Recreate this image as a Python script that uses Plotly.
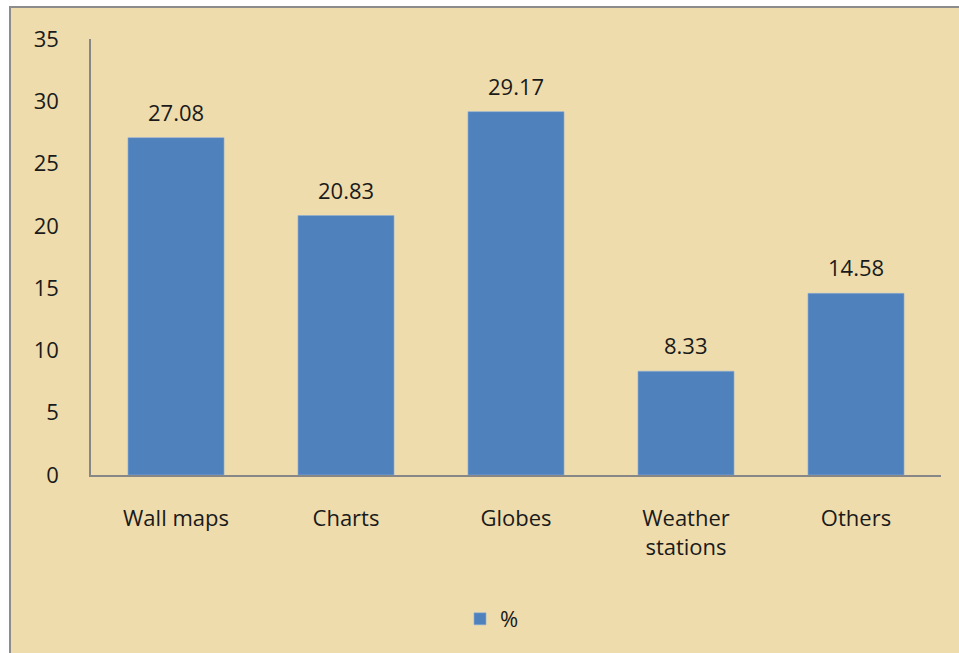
import plotly.graph_objects as go

# Survey results: teaching aids available (%)
categories = ["Wall maps", "Charts", "Globes", "Weather<br>stations", "Others"]
values = [27.08, 20.83, 29.17, 8.33, 14.58]
value_labels = ["27.08", "20.83", "29.17", "8.33", "14.58"]
y_ticks = [0, 5, 10, 15, 20, 25, 30, 35]

W, H = 959, 653
BAR = "#4F81BD"
PAPYRUS = "#EEDCAC"
FONT = "'Open Sans', Lato, sans-serif"
FS = 22

fig = go.Figure()
fig.add_trace(go.Bar(
    x=categories, y=values, name="%",
    marker=dict(color=BAR, line=dict(color="#8FAFD6", width=0.6)),
    width=0.565, showlegend=True,
))

for c, v, t in zip(categories, values, value_labels):
    fig.add_annotation(x=c, y=v, text=t, showarrow=False, yanchor="bottom",
                       yshift=9, font=dict(size=FS, color="#1a1a1a", family=FONT))

# chart area frame (left/top edges visible)
fig.add_shape(type="rect", xref="paper", yref="paper",
              x0=(10 - 91) / 850, x1=(W + 5 - 91) / 850,
              y0=(475 - (H + 5)) / 436, y1=(475 - 7) / 436,
              fillcolor=PAPYRUS, line=dict(color="#8C8C8C", width=2), layer="below")

fig.update_layout(
    width=W, height=H,
    margin=dict(l=91, r=18, t=39, b=178),
    paper_bgcolor="white", plot_bgcolor="rgba(0,0,0,0)",
    font=dict(family=FONT, size=FS, color="#1a1a1a"),
    bargap=0.435,
    legend=dict(orientation="h", x=(492 - 91) / 850, xanchor="center",
                y=(475 - 619) / 436, yanchor="middle",
                bgcolor="rgba(0,0,0,0)", font=dict(size=FS)),
    xaxis=dict(showline=True, linecolor="#878787", linewidth=1.5,
               showgrid=False, ticks="", ticklabelstandoff=23,
               tickfont=dict(size=FS)),
    yaxis=dict(range=[0, 35], tickvals=y_ticks, showline=True,
               linecolor="#878787", linewidth=1.5, showgrid=False,
               zeroline=False, ticks="", ticklabelstandoff=26,
               tickfont=dict(size=FS)),
)

fig.write_html("out.html")
